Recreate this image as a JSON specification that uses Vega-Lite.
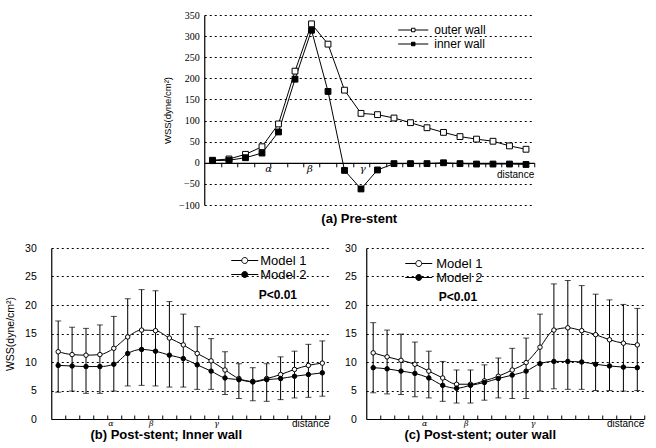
{
  "$schema": "https://vega.github.io/schema/vega-lite/v6.json",
  "background": "white",
  "padding": {"left": 5, "top": 10, "right": 5, "bottom": 3},
  "config": {
    "font": "Liberation Sans",
    "view": {"stroke": null},
    "axis": {"gridColor": "black", "gridDash": [2, 3], "gridOpacity": 1, "gridWidth": 1, "domainColor": "black", "domainWidth": 1.2, "tickColor": "black", "labelColor": "black", "titleColor": "black", "titleFontWeight": "normal"},
    "title": {"color": "black"}
  },
  "datasets": {
    "top": [
      {"i": 1, "wall": "outer wall", "v": 6}, {"i": 2, "wall": "outer wall", "v": 9}, {"i": 3, "wall": "outer wall", "v": 20}, {"i": 4, "wall": "outer wall", "v": 38}, {"i": 5, "wall": "outer wall", "v": 92},
      {"i": 6, "wall": "outer wall", "v": 217}, {"i": 7, "wall": "outer wall", "v": 329}, {"i": 8, "wall": "outer wall", "v": 281}, {"i": 9, "wall": "outer wall", "v": 172}, {"i": 10, "wall": "outer wall", "v": 117},
      {"i": 11, "wall": "outer wall", "v": 114}, {"i": 12, "wall": "outer wall", "v": 106}, {"i": 13, "wall": "outer wall", "v": 95}, {"i": 14, "wall": "outer wall", "v": 83}, {"i": 15, "wall": "outer wall", "v": 72},
      {"i": 16, "wall": "outer wall", "v": 62}, {"i": 17, "wall": "outer wall", "v": 56}, {"i": 18, "wall": "outer wall", "v": 51}, {"i": 19, "wall": "outer wall", "v": 40}, {"i": 20, "wall": "outer wall", "v": 32},
      {"i": 1, "wall": "inner wall", "v": 5}, {"i": 2, "wall": "inner wall", "v": 6}, {"i": 3, "wall": "inner wall", "v": 12}, {"i": 4, "wall": "inner wall", "v": 23}, {"i": 5, "wall": "inner wall", "v": 73},
      {"i": 6, "wall": "inner wall", "v": 198}, {"i": 7, "wall": "inner wall", "v": 314}, {"i": 8, "wall": "inner wall", "v": 169}, {"i": 9, "wall": "inner wall", "v": -18}, {"i": 10, "wall": "inner wall", "v": -62},
      {"i": 11, "wall": "inner wall", "v": -17}, {"i": 12, "wall": "inner wall", "v": -2}, {"i": 13, "wall": "inner wall", "v": -2}, {"i": 14, "wall": "inner wall", "v": -2}, {"i": 15, "wall": "inner wall", "v": 0},
      {"i": 16, "wall": "inner wall", "v": -2}, {"i": 17, "wall": "inner wall", "v": -3}, {"i": 18, "wall": "inner wall", "v": -3}, {"i": 19, "wall": "inner wall", "v": -3}, {"i": 20, "wall": "inner wall", "v": -4}
    ],
    "topLab": [{"x": 4.4, "y": -14, "t": "α"}, {"x": 6.9, "y": -14, "t": "β"}, {"x": 10.1, "y": -14, "t": "γ"}],
    "topDist": [{"x": 20.5, "y": -30, "t": "distance"}],
    "b": [
      {"i": 1, "model": "Model 1", "v": 11.8}, {"i": 2, "model": "Model 1", "v": 11.3}, {"i": 3, "model": "Model 1", "v": 11.2}, {"i": 4, "model": "Model 1", "v": 11.3}, {"i": 5, "model": "Model 1", "v": 12.4},
      {"i": 6, "model": "Model 1", "v": 14.4}, {"i": 7, "model": "Model 1", "v": 15.6}, {"i": 8, "model": "Model 1", "v": 15.5}, {"i": 9, "model": "Model 1", "v": 14.2}, {"i": 10, "model": "Model 1", "v": 13.0},
      {"i": 11, "model": "Model 1", "v": 11.5}, {"i": 12, "model": "Model 1", "v": 10.2}, {"i": 13, "model": "Model 1", "v": 8.6}, {"i": 14, "model": "Model 1", "v": 7.1}, {"i": 15, "model": "Model 1", "v": 6.6},
      {"i": 16, "model": "Model 1", "v": 7.1}, {"i": 17, "model": "Model 1", "v": 7.8}, {"i": 18, "model": "Model 1", "v": 8.7}, {"i": 19, "model": "Model 1", "v": 9.4}, {"i": 20, "model": "Model 1", "v": 9.8},
      {"i": 1, "model": "Model 2", "v": 9.4}, {"i": 2, "model": "Model 2", "v": 9.3}, {"i": 3, "model": "Model 2", "v": 9.2}, {"i": 4, "model": "Model 2", "v": 9.2}, {"i": 5, "model": "Model 2", "v": 9.6},
      {"i": 6, "model": "Model 2", "v": 11.5}, {"i": 7, "model": "Model 2", "v": 12.2}, {"i": 8, "model": "Model 2", "v": 11.9}, {"i": 9, "model": "Model 2", "v": 11.2}, {"i": 10, "model": "Model 2", "v": 10.6},
      {"i": 11, "model": "Model 2", "v": 9.5}, {"i": 12, "model": "Model 2", "v": 8.4}, {"i": 13, "model": "Model 2", "v": 7.2}, {"i": 14, "model": "Model 2", "v": 6.9}, {"i": 15, "model": "Model 2", "v": 6.5},
      {"i": 16, "model": "Model 2", "v": 6.9}, {"i": 17, "model": "Model 2", "v": 7.1}, {"i": 18, "model": "Model 2", "v": 7.5}, {"i": 19, "model": "Model 2", "v": 7.8}, {"i": 20, "model": "Model 2", "v": 8.1}
    ],
    "bErr": [
      {"i": 1, "lo": 4.7, "hi": 17.2}, {"i": 2, "lo": 4.9, "hi": 16.1}, {"i": 3, "lo": 4.5, "hi": 15.9}, {"i": 4, "lo": 4.5, "hi": 16.5}, {"i": 5, "lo": 4.9, "hi": 18.0},
      {"i": 6, "lo": 5.8, "hi": 21.1}, {"i": 7, "lo": 5.9, "hi": 22.7}, {"i": 8, "lo": 5.8, "hi": 22.5}, {"i": 9, "lo": 5.6, "hi": 20.6}, {"i": 10, "lo": 5.6, "hi": 18.4},
      {"i": 11, "lo": 5.2, "hi": 16.2}, {"i": 12, "lo": 5.2, "hi": 14.1}, {"i": 13, "lo": 4.3, "hi": 11.8}, {"i": 14, "lo": 3.6, "hi": 9.7}, {"i": 15, "lo": 3.2, "hi": 9.0},
      {"i": 16, "lo": 3.1, "hi": 9.7}, {"i": 17, "lo": 3.4, "hi": 10.9}, {"i": 18, "lo": 3.7, "hi": 11.9}, {"i": 19, "lo": 3.8, "hi": 13.1}, {"i": 20, "lo": 4.0, "hi": 13.7}
    ],
    "c": [
      {"i": 1, "model": "Model 1", "v": 11.6}, {"i": 2, "model": "Model 1", "v": 10.9}, {"i": 3, "model": "Model 1", "v": 10.3}, {"i": 4, "model": "Model 1", "v": 9.6}, {"i": 5, "model": "Model 1", "v": 8.4},
      {"i": 6, "model": "Model 1", "v": 7.2}, {"i": 7, "model": "Model 1", "v": 6.1}, {"i": 8, "model": "Model 1", "v": 6.1}, {"i": 9, "model": "Model 1", "v": 6.7}, {"i": 10, "model": "Model 1", "v": 7.5},
      {"i": 11, "model": "Model 1", "v": 8.6}, {"i": 12, "model": "Model 1", "v": 9.9}, {"i": 13, "model": "Model 1", "v": 12.6}, {"i": 14, "model": "Model 1", "v": 15.6}, {"i": 15, "model": "Model 1", "v": 16.0},
      {"i": 16, "model": "Model 1", "v": 15.5}, {"i": 17, "model": "Model 1", "v": 14.8}, {"i": 18, "model": "Model 1", "v": 13.9}, {"i": 19, "model": "Model 1", "v": 13.3}, {"i": 20, "model": "Model 1", "v": 13.0},
      {"i": 1, "model": "Model 2", "v": 9.0}, {"i": 2, "model": "Model 2", "v": 8.8}, {"i": 3, "model": "Model 2", "v": 8.4}, {"i": 4, "model": "Model 2", "v": 8.0}, {"i": 5, "model": "Model 2", "v": 7.2},
      {"i": 6, "model": "Model 2", "v": 5.9}, {"i": 7, "model": "Model 2", "v": 5.4}, {"i": 8, "model": "Model 2", "v": 5.9}, {"i": 9, "model": "Model 2", "v": 6.4}, {"i": 10, "model": "Model 2", "v": 7.1},
      {"i": 11, "model": "Model 2", "v": 7.7}, {"i": 12, "model": "Model 2", "v": 8.4}, {"i": 13, "model": "Model 2", "v": 9.7}, {"i": 14, "model": "Model 2", "v": 10.1}, {"i": 15, "model": "Model 2", "v": 10.1},
      {"i": 16, "model": "Model 2", "v": 10.0}, {"i": 17, "model": "Model 2", "v": 9.6}, {"i": 18, "model": "Model 2", "v": 9.3}, {"i": 19, "model": "Model 2", "v": 9.1}, {"i": 20, "model": "Model 2", "v": 9.0}
    ],
    "cErr": [
      {"i": 1, "lo": 4.6, "hi": 16.9}, {"i": 2, "lo": 4.4, "hi": 15.6}, {"i": 3, "lo": 4.3, "hi": 14.9}, {"i": 4, "lo": 3.9, "hi": 13.5}, {"i": 5, "lo": 3.7, "hi": 11.9},
      {"i": 6, "lo": 3.1, "hi": 10.1}, {"i": 7, "lo": 2.8, "hi": 8.6}, {"i": 8, "lo": 2.8, "hi": 8.6}, {"i": 9, "lo": 3.3, "hi": 9.5}, {"i": 10, "lo": 3.7, "hi": 10.7},
      {"i": 11, "lo": 3.6, "hi": 12.4}, {"i": 12, "lo": 3.6, "hi": 14.2}, {"i": 13, "lo": 4.9, "hi": 18.4}, {"i": 14, "lo": 5.3, "hi": 23.7}, {"i": 15, "lo": 5.2, "hi": 24.3},
      {"i": 16, "lo": 5.2, "hi": 23.4}, {"i": 17, "lo": 5.0, "hi": 21.9}, {"i": 18, "lo": 5.0, "hi": 20.9}, {"i": 19, "lo": 4.9, "hi": 20.1}, {"i": 20, "lo": 5.0, "hi": 19.4}
    ],
    "bLab": [{"x": 4.8, "y": -0.9, "t": "α"}, {"x": 7.7, "y": -0.9, "t": "β"}, {"x": 12.4, "y": -0.9, "t": "γ"}],
    "cLab": [{"x": 4.7, "y": -0.85, "t": "α"}, {"x": 7.7, "y": -0.85, "t": "β"}, {"x": 12.5, "y": -0.85, "t": "γ"}],
    "dist": [{"x": 20.5, "y": -0.8, "t": "distance"}],
    "bP": [{"x": 16.8, "y": 21.8, "t": "P<0.01"}],
    "cP": [{"x": 7.1, "y": 21.4, "t": "P<0.01"}]
  },
  "center": true,
  "spacing": 17,
  "resolve": {"scale": {"x": "independent", "y": "independent", "fill": "independent"}, "legend": {"fill": "independent"}},
  "vconcat": [
    {
      "hconcat": [
        {"width": 1, "height": 10, "data": {"values": []}, "mark": "point"},
        {
          "width": 330,
          "height": 190,
          "title": {"text": "(a) Pre-stent", "orient": "bottom", "anchor": "middle", "fontSize": 13, "fontWeight": "bold", "offset": 3, "dx": -10},
          "encoding": {
            "x": {"field": "i", "type": "quantitative", "scale": {"domain": [0.5, 20.5]}, "axis": {"title": null, "labels": false, "grid": false, "offset": -42.2, "values": [1.5, 2.5, 3.5, 4.5, 5.5, 6.5, 7.5, 8.5, 9.5, 10.5, 11.5, 12.5, 13.5, 14.5, 15.5, 16.5, 17.5, 18.5, 19.5, 20.5], "tickSize": 4}},
            "y": {"field": "v", "type": "quantitative", "scale": {"domain": [-100, 350]}, "axis": {"title": "WSS(dyne/cm²)", "titleFontSize": 9.5, "titlePadding": 6, "labelFontSize": 10, "labelFont": "Liberation Sans Narrow", "labelPadding": 5, "ticks": false, "values": [-100, -50, 0, 50, 100, 150, 200, 250, 300, 350]}}
          },
          "layer": [
            {"data": {"name": "top"}, "mark": {"type": "line", "color": "black", "strokeWidth": 1}, "encoding": {"detail": {"field": "wall"}}},
            {"data": {"name": "top"}, "mark": {"type": "point", "shape": "square", "filled": true, "stroke": "black", "strokeWidth": 1, "size": 34, "opacity": 1},
             "encoding": {"fill": {"field": "wall", "type": "nominal", "scale": {"domain": ["outer wall", "inner wall"], "range": ["white", "black"]},
               "legend": {"title": null, "orient": "none", "legendX": 203, "legendY": 9, "symbolType": "M-4.3,0L-0.5,0M0.5,0L4.3,0M-0.5,-0.5L0.5,-0.5L0.5,0.5L-0.5,0.5Z", "symbolSize": 49, "symbolStrokeColor": "black", "symbolStrokeWidth": 1, "labelFontSize": 12, "labelColor": "black", "rowPadding": 2, "labelOffset": 15}}}},
            {"data": {"name": "topLab"}, "mark": {"type": "text", "font": "DejaVu Serif", "fontStyle": "italic", "fontSize": 10, "color": "black"},
             "encoding": {"x": {"field": "x", "type": "quantitative"}, "y": {"field": "y", "type": "quantitative"}, "text": {"field": "t"}}},
            {"data": {"name": "topDist"}, "mark": {"type": "text", "fontSize": 10, "align": "right", "color": "black"},
             "encoding": {"x": {"field": "x", "type": "quantitative"}, "y": {"field": "y", "type": "quantitative"}, "text": {"field": "t"}}}
          ]
        }
      ],
      "spacing": 0,
      "resolve": {"scale": {"x": "independent", "y": "independent", "fill": "independent"}, "legend": {"fill": "independent"}}
    },
    {
      "hconcat": [
        {
          "width": 278,
          "height": 171,
          "title": {"text": "(b) Post-stent; Inner wall", "orient": "bottom", "anchor": "middle", "fontSize": 13, "fontWeight": "bold", "offset": 0, "dx": -24},
          "encoding": {
            "x": {"field": "i", "type": "quantitative", "scale": {"domain": [0.5, 20.5]}, "axis": {"title": null, "labels": false, "grid": false, "values": [1.5, 2.5, 3.5, 4.5, 5.5, 6.5, 7.5, 8.5, 9.5, 10.5, 11.5, 12.5, 13.5, 14.5, 15.5, 16.5, 17.5, 18.5, 19.5, 20.5], "tickSize": -4}},
            "y": {"field": "v", "type": "quantitative", "scale": {"domain": [0, 30]}, "axis": {"title": "WSS(dyne/cm²)", "titleFontSize": 10.5, "titlePadding": 9, "labelFontSize": 10.5, "labelPadding": 15, "ticks": false, "values": [0, 5, 10, 15, 20, 25, 30]}}
          },
          "layer": [
            {"data": {"name": "bErr"}, "mark": {"type": "errorbar", "ticks": {"size": 6, "color": "black"}, "color": "black", "thickness": 1},
             "encoding": {"x": {"field": "i", "type": "quantitative"}, "y": {"field": "lo", "type": "quantitative", "title": "WSS(dyne/cm²)"}, "y2": {"field": "hi"}}},
            {"data": {"name": "b"}, "mark": {"type": "line", "color": "black", "strokeWidth": 1, "interpolate": "monotone"}, "encoding": {"detail": {"field": "model"}}},
            {"data": {"name": "b"}, "mark": {"type": "point", "shape": "circle", "filled": true, "stroke": "black", "strokeWidth": 1, "size": 20, "opacity": 1},
             "encoding": {"fill": {"field": "model", "type": "nominal", "scale": {"domain": ["Model 1", "Model 2"], "range": ["white", "black"]},
               "legend": {"title": null, "orient": "none", "legendX": 187, "legendY": 6, "symbolType": "M-4.5,0L-1,0M1,0L4.5,0M-1,0A1,1 0 1,1 1,0A1,1 0 1,1 -1,0Z", "symbolSize": 36, "symbolStrokeColor": "black", "symbolStrokeWidth": 1, "labelFontSize": 13, "labelColor": "black", "rowPadding": -4, "labelOffset": 9}}}},
            {"data": {"name": "bLab"}, "mark": {"type": "text", "font": "DejaVu Serif", "fontStyle": "italic", "fontSize": 8, "color": "black"},
             "encoding": {"x": {"field": "x", "type": "quantitative"}, "y": {"field": "y", "type": "quantitative"}, "text": {"field": "t"}}},
            {"data": {"name": "dist"}, "mark": {"type": "text", "fontSize": 10, "align": "right", "color": "black"},
             "encoding": {"x": {"field": "x", "type": "quantitative"}, "y": {"field": "y", "type": "quantitative"}, "text": {"field": "t"}}},
            {"data": {"name": "bP"}, "mark": {"type": "text", "fontSize": 12, "fontWeight": "bold", "color": "black"},
             "encoding": {"x": {"field": "x", "type": "quantitative"}, "y": {"field": "y", "type": "quantitative"}, "text": {"field": "t"}}}
          ]
        },
        {
          "width": 278,
          "height": 171,
          "title": {"text": "(c) Post-stent; outer wall", "orient": "bottom", "anchor": "middle", "fontSize": 13, "fontWeight": "bold", "offset": 0, "dx": -25},
          "encoding": {
            "x": {"field": "i", "type": "quantitative", "scale": {"domain": [0.5, 20.5]}, "axis": {"title": null, "labels": false, "grid": false, "values": [1.5, 2.5, 3.5, 4.5, 5.5, 6.5, 7.5, 8.5, 9.5, 10.5, 11.5, 12.5, 13.5, 14.5, 15.5, 16.5, 17.5, 18.5, 19.5, 20.5], "tickSize": -4}},
            "y": {"field": "v", "type": "quantitative", "scale": {"domain": [0, 30]}, "axis": {"title": null, "labelFontSize": 10.5, "labelPadding": 10, "ticks": false, "values": [0, 5, 10, 15, 20, 25, 30]}}
          },
          "layer": [
            {"data": {"name": "cErr"}, "mark": {"type": "errorbar", "ticks": {"size": 6, "color": "black"}, "color": "black", "thickness": 1},
             "encoding": {"x": {"field": "i", "type": "quantitative"}, "y": {"field": "lo", "type": "quantitative", "title": null}, "y2": {"field": "hi"}}},
            {"data": {"name": "c"}, "mark": {"type": "line", "color": "black", "strokeWidth": 1, "interpolate": "monotone"}, "encoding": {"detail": {"field": "model"}}},
            {"data": {"name": "c"}, "mark": {"type": "point", "shape": "circle", "filled": true, "stroke": "black", "strokeWidth": 1, "size": 20, "opacity": 1},
             "encoding": {"fill": {"field": "model", "type": "nominal", "scale": {"domain": ["Model 1", "Model 2"], "range": ["white", "black"]},
               "legend": {"title": null, "orient": "none", "legendX": 46, "legendY": 9, "symbolType": "M-4.5,0L-1,0M1,0L4.5,0M-1,0A1,1 0 1,1 1,0A1,1 0 1,1 -1,0Z", "symbolSize": 36, "symbolStrokeColor": "black", "symbolStrokeWidth": 1, "labelFontSize": 13, "labelColor": "black", "rowPadding": -4, "labelOffset": 11}}}},
            {"data": {"name": "cLab"}, "mark": {"type": "text", "font": "DejaVu Serif", "fontStyle": "italic", "fontSize": 8, "color": "black"},
             "encoding": {"x": {"field": "x", "type": "quantitative"}, "y": {"field": "y", "type": "quantitative"}, "text": {"field": "t"}}},
            {"data": {"name": "dist"}, "mark": {"type": "text", "fontSize": 10, "align": "right", "color": "black"},
             "encoding": {"x": {"field": "x", "type": "quantitative"}, "y": {"field": "y", "type": "quantitative"}, "text": {"field": "t"}}},
            {"data": {"name": "cP"}, "mark": {"type": "text", "fontSize": 12, "fontWeight": "bold", "color": "black"},
             "encoding": {"x": {"field": "x", "type": "quantitative"}, "y": {"field": "y", "type": "quantitative"}, "text": {"field": "t"}}}
          ]
        }
      ],
      "spacing": 14,
      "resolve": {"scale": {"x": "independent", "y": "independent", "fill": "independent"}, "legend": {"fill": "independent"}}
    }
  ]
}
